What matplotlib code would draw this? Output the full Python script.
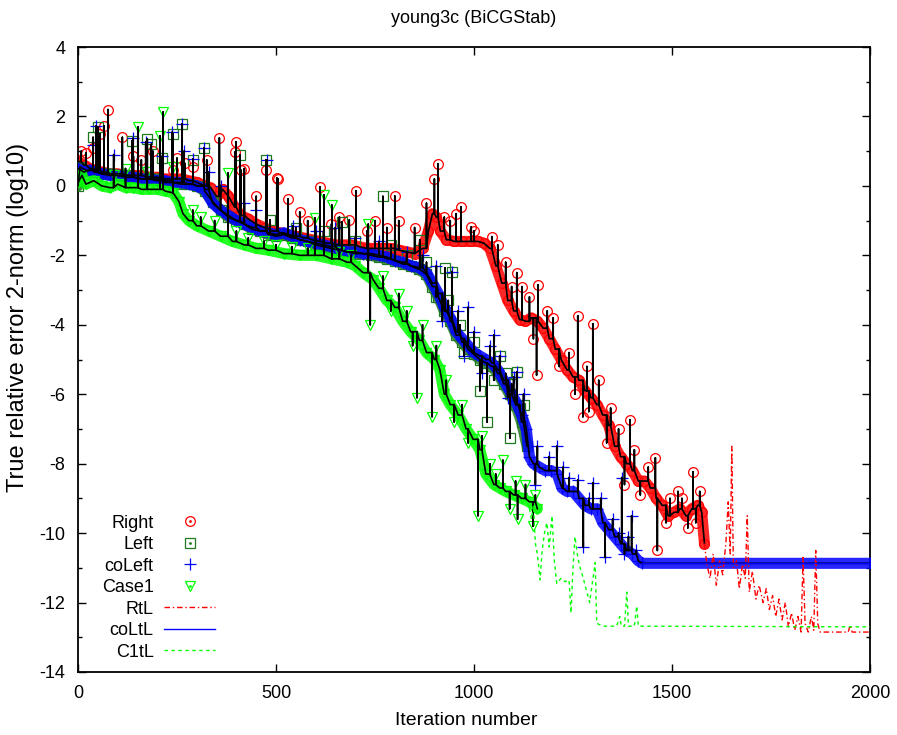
import numpy as np
import matplotlib.pyplot as plt
from matplotlib.lines import Line2D

plt.rcParams['font.family'] = ['Liberation Sans', 'DejaVu Sans']
plt.rcParams['font.size'] = 13
plt.rcParams['axes.unicode_minus'] = False

# ---- Right (red circles): trend points + isolated spikes
right_it = [0, 15, 30, 45, 60, 80, 100, 120, 140, 160, 180, 200, 220, 240, 260,
            280, 300, 320, 335, 350, 365, 380, 395, 410, 430, 450, 470, 490, 510, 530,
            550, 570, 590, 610, 630, 650, 670, 690, 710, 730, 750, 770, 790, 810, 830,
            850, 870, 885, 895, 905, 915, 930, 950, 970, 990, 1010, 1025, 1040, 1055, 1070,
            1085, 1100, 1115, 1130, 1145, 1160, 1175, 1190, 1205, 1220, 1235, 1250, 1265, 1280, 1295,
            1310, 1325, 1340, 1355, 1370, 1385, 1400, 1415, 1430, 1445, 1460, 1475, 1490, 1505, 1520,
            1535, 1550, 1565, 1575, 1582]
right_val = [0.7, 0.6, 0.5, 0.45, 0.4, 0.35, 0.35, 0.3, 0.3, 0.3, 0.25, 0.25, 0.2, 0.2, 0.2,
             0.15, 0.1, 0.0, -0.05, -0.3, -0.1, -0.3, -0.6, -0.85, -0.95, -1.1, -1.2, -1.3, -1.35, -1.4,
             -1.45, -1.5, -1.55, -1.6, -1.65, -1.7, -1.7, -1.7, -1.75, -1.8, -1.8, -1.8, -1.8, -1.85, -1.9,
             -1.95, -1.8, -1.3, -0.8, -0.9, -1.3, -1.55, -1.6, -1.6, -1.6, -1.6, -1.65, -1.8, -2.3, -2.8,
             -3.3, -3.6, -3.85, -3.9, -3.8, -3.9, -4.1, -4.4, -4.7, -5.0, -5.3, -5.5, -5.6, -5.9, -6.1,
             -6.3, -6.6, -6.9, -7.5, -7.8, -8.0, -8.2, -8.5, -8.5, -8.7, -9.0, -9.2, -9.5, -9.4, -9.3,
             -9.5, -9.3, -9.2, -9.4, -10.3]
right_sp_it = [8, 20, 38, 55, 66, 76, 112, 140, 160, 189, 240, 250, 270, 290, 325, 357, 396, 399, 412,
               420, 450, 475, 502, 505, 530, 560, 580, 611, 640, 660, 685, 702, 730, 750, 780, 800, 810,
               850, 880, 900, 909, 925, 940, 955, 967, 993, 1000, 1045, 1060, 1080, 1095, 1108, 1121,
               1140, 1150, 1158, 1162, 1185, 1200, 1215, 1240, 1255, 1262, 1275, 1285, 1290, 1300, 1315,
               1335, 1345, 1365, 1380, 1394, 1405, 1420, 1440, 1458, 1463, 1485, 1495, 1515, 1525, 1540,
               1553, 1560, 1570]
right_sp_val = [1.0, 0.95, 1.1, 1.5, 1.73, 2.2, 1.4, 0.85, 0.75, 1.0, 0.46, 0.8, 0.65, 0.55, 0.75, 1.38,
                0.98, 1.27, 0.45, 0.5, -0.3, 0.46, 0.23, 0.2, -0.37, -0.75, -1.0, -0.03, -1.1, -0.9, -0.98,
                -0.14, -1.3, -1.0, -1.2, -0.29, -1.0, -1.2, -0.5, 0.2, 0.63, -0.9, -1.0, -0.8, -0.6, -1.18,
                -1.3, -1.46, -1.7, -2.2, -2.9, -2.5, -2.9, -3.2, -4.4, -5.45, -2.85, -3.6, -3.8, -5.2, -4.8,
                -6.0, -3.74, -6.65, -5.2, -6.5, -3.97, -5.6, -7.4, -6.4, -7.0, -8.6, -6.74, -7.6, -8.9,
                -8.1, -7.83, -10.5, -9.7, -9.0, -8.8, -9.0, -9.85, -8.24, -9.7, -8.8]

# ---- Left (dark green squares)
left_it = [0, 5, 20, 40, 60, 80, 100, 120, 140, 160, 180, 200, 220, 240, 260, 280, 300, 320, 340, 360,
           380, 400, 420, 440, 460, 480, 500, 520, 540, 560, 580, 600, 620, 640, 660, 680, 700, 720, 740, 760,
           780, 800, 820, 840, 860, 880, 895, 910, 925, 940, 955, 970, 985, 1000, 1015, 1030, 1045, 1060,
           1075, 1090, 1105, 1120, 1134]
left_val = [0.0, 0.55, 0.45, 0.4, 0.35, 0.35, 0.3, 0.3, 0.25, 0.2, 0.2, 0.2, 0.1, 0.1, 0.05, 0.05, 0.0,
            -0.15, -0.45, -0.7, -0.9, -1.0, -1.1, -1.25, -1.3, -1.4, -1.45, -1.4, -1.5, -1.55, -1.6, -1.7,
            -1.75, -1.8, -1.85, -1.9, -1.95, -1.95, -2.0, -2.05, -2.1, -2.15, -2.25, -2.3, -2.4, -2.55, -2.9,
            -3.2, -3.6, -3.9, -4.3, -4.5, -4.7, -4.85, -5.0, -5.1, -5.2, -5.4, -5.7, -6.0, -6.3, -6.8, -7.5]
left_sp_it = [38, 50, 136, 175, 185, 212, 240, 263, 290, 318, 409, 475, 485, 550, 620, 666, 700, 770,
              790, 830, 863, 880, 905, 927, 935, 944, 965, 975, 1000, 1015, 1033, 1050, 1065, 1080, 1091,
              1095, 1108, 1115, 1125]
left_sp_val = [1.4, 1.7, 1.3, 1.35, 1.2, 0.8, 1.5, 1.78, 0.75, 1.1, 0.9, 0.75, -0.98, -1.2, -1.3, -1.04,
               -1.6, -0.3, -1.7, -2.0, -1.55, -2.2, -3.2, -2.36, -3.3, -2.47, -4.0, -4.8, -4.5, -5.9, -6.8,
               -5.6, -4.9, -5.4, -7.26, -5.7, -5.36, -6.4, -6.3]

# ---- coLeft (blue plus)
co_it = [0, 15, 30, 45, 60, 80, 100, 120, 140, 160, 180, 200, 220, 240, 260, 280, 300, 320, 340, 360,
         380, 400, 420, 440, 460, 480, 500, 520, 540, 560, 580, 600, 620, 640, 660, 680, 700, 720, 740, 760,
         780, 800, 820, 840, 860, 880, 895, 910, 925, 940, 955, 970, 985, 1000, 1015, 1030, 1045, 1060,
         1075, 1090, 1105, 1120, 1132, 1140, 1150, 1165, 1180, 1195, 1210, 1222, 1235, 1250, 1265, 1280,
         1295, 1310, 1325, 1340, 1355, 1370, 1385, 1400, 1415, 1425, 2000]
co_val = [0.5, 0.4, 0.45, 0.4, 0.35, 0.3, 0.3, 0.25, 0.25, 0.2, 0.2, 0.15, 0.15, 0.1, 0.1, 0.05, 0.0,
          -0.1, -0.5, -0.7, -0.85, -1.0, -1.1, -1.2, -1.3, -1.35, -1.4, -1.35, -1.45, -1.55, -1.6, -1.65,
          -1.7, -1.75, -1.85, -1.9, -1.9, -1.95, -1.95, -2.0, -2.05, -2.15, -2.2, -2.3, -2.35, -2.5, -2.8,
          -3.1, -3.5, -3.8, -4.2, -4.4, -4.6, -4.8, -4.9, -5.0, -5.1, -5.3, -5.6, -5.9, -6.2, -6.6, -7.0,
          -7.8, -8.0, -8.1, -8.2, -8.2, -8.3, -8.7, -8.8, -8.8, -9.0, -9.2, -9.3, -9.3, -9.7, -9.9, -10.1,
          -10.3, -10.5, -10.6, -10.8, -10.87, -10.87]
co_sp_it = [38, 46, 90, 139, 171, 212, 238, 263, 268, 290, 318, 330, 360, 420, 450, 477, 543, 600, 650,
            700, 760, 800, 830, 870, 905, 920, 944, 960, 975, 985, 1000, 1020, 1040, 1050, 1065, 1085,
            1100, 1108, 1125, 1155, 1160, 1190, 1209, 1225, 1240, 1262, 1276, 1290, 1300, 1320, 1331,
            1350, 1365, 1373, 1380, 1390, 1398, 1410]
co_sp_val = [1.18, 1.73, 0.9, 1.37, 1.27, 0.85, 1.55, 1.78, 1.0, 0.78, 1.1, 0.4, 0.0, -0.5, -0.7, 0.75,
             -1.15, -1.3, -1.2, -1.5, -1.6, -1.8, -1.9, -2.0, -2.3, -3.9, -2.47, -3.6, -4.9, -3.5, -4.2,
             -5.4, -4.6, -4.3, -4.9, -6.1, -5.5, -5.36, -6.0, -8.6, -7.5, -7.8, -7.5, -8.1, -8.4, -8.47,
             -10.4, -9.0, -8.55, -9.0, -10.7, -9.6, -10.0, -8.4, -10.6, -10.1, -9.5, -10.5]

# ---- Case1 (green triangles)
c1_it = [0, 10, 20, 40, 60, 80, 100, 120, 140, 160, 180, 200, 220, 240, 255, 265, 280, 300, 330, 360,
         390, 420, 450, 480, 520, 560, 600, 640, 680, 700, 720, 745, 760, 780, 800, 820, 840, 862, 880,
         900, 914, 925, 940, 960, 980, 998, 1015, 1030, 1050, 1065, 1080, 1100, 1120, 1140, 1160]
c1_val = [0.1, 0.3, 0.05, 0.15, 0.0, -0.05, 0.05, -0.05, -0.05, -0.1, -0.1, -0.1, -0.15, -0.2, -0.45,
          -0.8, -1.0, -1.15, -1.3, -1.45, -1.6, -1.7, -1.8, -1.85, -1.95, -2.0, -2.0, -2.1, -2.2, -2.3,
          -2.5, -2.7, -2.95, -3.3, -3.5, -3.9, -4.2, -4.45, -4.8, -5.0, -5.3, -6.0, -6.3, -6.6, -7.0,
          -7.3, -7.6, -8.3, -8.6, -8.7, -8.8, -8.9, -9.0, -9.1, -9.3]
c1_sp_it = [90, 120, 152, 175, 207, 215, 240, 290, 310, 345, 379, 400, 430, 470, 500, 540, 580, 598,
            621, 641, 660, 690, 733, 738, 770, 790, 810, 830, 845, 856, 870, 894, 905, 930, 950, 970,
            985, 1010, 1020, 1040, 1055, 1073, 1090, 1105, 1110, 1130, 1149, 1155]
c1_sp_val = [0.3, 0.5, 1.7, 0.4, 1.44, 2.13, 0.55, -0.7, -0.9, -1.0, 0.37, -1.3, -1.5, -1.6, -1.7,
             -1.75, -1.8, -0.92, -0.26, -0.55, -1.9, -2.0, -1.1, -4.0, -2.6, -3.6, -3.1, -3.6, -4.6,
             -6.1, -4.0, -6.65, -4.6, -5.6, -6.8, -6.3, -7.4, -9.5, -7.2, -8.0, -8.3, -7.9, -9.3, -8.5,
             -9.6, -8.6, -9.8, -8.9]

# ---- true-error lines
rtl_it = [1582, 1588, 1596, 1604, 1612, 1620, 1628, 1636, 1642, 1647, 1651, 1655, 1663, 1670, 1678,
          1685, 1690, 1695, 1703, 1712, 1720, 1730, 1738, 1746, 1754, 1762, 1770, 1778, 1786, 1794,
          1802, 1810, 1818, 1826, 1831, 1836, 1844, 1852, 1858, 1863, 1868, 1874, 1945, 1950, 1955, 2000]
rtl_val = [-10.3, -10.9, -11.3, -10.6, -11.5, -10.8, -11.2, -10.3, -9.1, -10.6, -7.5, -11.0, -10.8,
           -11.6, -10.9, -11.3, -9.5, -11.7, -11.1, -11.9, -11.5, -12.0, -11.6, -12.2, -11.8, -12.4,
           -11.9, -12.5, -12.0, -12.7, -12.3, -12.8, -12.4, -12.85, -10.7, -12.6, -12.85, -12.4, -12.8,
           -10.5, -12.6, -12.85, -12.85, -12.65, -12.85, -12.85]
coltl_it = [1425, 2000]
coltl_val = [-10.87, -10.87]
c1tl_it = [1140, 1145, 1150, 1155, 1160, 1167, 1172, 1178, 1184, 1190, 1197, 1203, 1209, 1220, 1230,
           1240, 1245, 1250, 1255, 1262, 1268, 1276, 1285, 1292, 1298, 1306, 1310, 1326, 1360, 1368,
           1372, 1380, 1386, 1390, 1405, 1411, 1415, 2000]
c1tl_val = [-9.3, -9.6, -9.2, -10.3, -10.6, -11.35, -10.5, -10.0, -9.7, -10.4, -9.5, -10.8, -11.45,
            -11.3, -11.4, -11.35, -12.3, -11.0, -10.1, -10.7, -11.0, -11.3, -11.7, -12.0, -11.5, -10.85,
            -12.6, -12.68, -12.68, -12.4, -12.68, -12.68, -11.7, -12.68, -12.68, -12.1, -12.68, -12.7]

RED, DKGREEN, BLUE, GREEN = '#ff0000', '#1f7a1f', '#0000ff', '#00ff00'


def merge(it, val, sp_it, sp_val):
    x = np.concatenate([it, sp_it]).astype(float)
    y = np.concatenate([val, sp_val]).astype(float)
    spike = np.concatenate([np.zeros(len(it), bool), np.ones(len(sp_it), bool)])
    order = np.argsort(x, kind='stable')
    return x[order], y[order], spike[order]


def spike_path(x, y, spike):
    # black trace: follows the trend, spikes drawn as vertical stems
    px, py = [], []
    base = y[0]
    for xi, yi, s in zip(x, y, spike):
        if s:
            px += [xi, xi, xi]
            py += [base, yi, base]
        else:
            base = yi
            px.append(xi)
            py.append(yi)
    return px, py


fig = plt.figure(figsize=(8.97, 7.35), dpi=100)
ax = fig.add_axes([78 / 897, 1 - 672 / 735, 792 / 897, 625 / 735])

series = [
    (right_it, right_val, right_sp_it, right_sp_val, RED, dict(marker='o', ms=7)),
    (left_it, left_val, left_sp_it, left_sp_val, DKGREEN, dict(marker='s', ms=6.5)),
    (co_it, co_val, co_sp_it, co_sp_val, BLUE, dict(marker='+', ms=8)),
    (c1_it, c1_val, c1_sp_it, c1_sp_val, GREEN, dict(marker='v', ms=7)),
]

for k, (it, val, sit, sval, col, mk) in enumerate(series):
    assert len(it) == len(val) and len(sit) == len(sval)
    z = 2 + k
    # dense marker band along the trend
    ax.plot(it, val, color=col, lw=8, alpha=0.85, solid_joinstyle='round',
            solid_capstyle='round', zorder=z)
    x, y, sp = merge(it, val, sit, sval)
    ax.plot(x, y, ls='none', mfc='none', mec=col, mew=0.9, zorder=z, **mk)
    bx, by = spike_path(x, y, sp)
    ax.plot(bx, by, color='black', lw=1.2, zorder=7)

ax.plot(rtl_it, rtl_val, color=RED, lw=1.0, dashes=[4, 2, 1, 2], zorder=8)
ax.plot(coltl_it, coltl_val, color=BLUE, lw=1.0, zorder=8)
ax.plot(c1tl_it, c1tl_val, color=GREEN, lw=1.0, dashes=[2.5, 2.5], zorder=8)

ax.set_xlim(0, 2000)
ax.set_ylim(-14, 4)
ax.set_xticks([0, 500, 1000, 1500, 2000])
ax.set_yticks(np.arange(-14, 5, 2))
ax.set_yticks(np.arange(-13, 4, 2), minor=True)
ax.tick_params(direction='in', top=True, right=True, length=6, width=1, pad=9)
ax.tick_params(which='minor', direction='in', right=True, length=3, width=1)
for s in ax.spines.values():
    s.set_linewidth(1.3)

ax.set_title('young3c (BiCGStab)', fontsize=13, pad=17)
ax.set_xlabel('Iteration number', fontsize=14)
ax.xaxis.set_label_coords(0.49, -0.064)
ax.set_ylabel('True relative error 2-norm (log10)', fontsize=17)
ax.yaxis.set_label_coords(-0.062, 0.568)

# legend in gnuplot style: right-aligned labels, sample on the right
def dot(col):
    return Line2D([], [], ls='none', marker='.', ms=2, color=col)

handles = [
    (Line2D([], [], ls='none', marker='o', ms=7, mfc='none', mec=RED, mew=0.9), dot(RED)),
    (Line2D([], [], ls='none', marker='s', ms=6.5, mfc='none', mec=DKGREEN, mew=0.9), dot(DKGREEN)),
    Line2D([], [], ls='none', marker='+', ms=8, mec=BLUE, mew=0.9),
    (Line2D([], [], ls='none', marker='v', ms=7, mfc='none', mec=GREEN, mew=0.9), dot(GREEN)),
    Line2D([], [], color=RED, lw=1.0, dashes=[4, 2, 1, 2]),
    Line2D([], [], color=BLUE, lw=1.0),
    Line2D([], [], color=GREEN, lw=1.0, dashes=[2.5, 2.5]),
]
labels = ['Right', 'Left', 'coLeft', 'Case1', 'RtL', 'coLtL', 'C1tL']
ax.legend(handles, labels, loc='lower left', bbox_to_anchor=(0.03, 0.018), frameon=False,
          markerfirst=False, numpoints=1, handlelength=2.8, handletextpad=0.6,
          labelspacing=0.25, borderpad=0, borderaxespad=0)

fig.savefig('out.png', dpi=100)
